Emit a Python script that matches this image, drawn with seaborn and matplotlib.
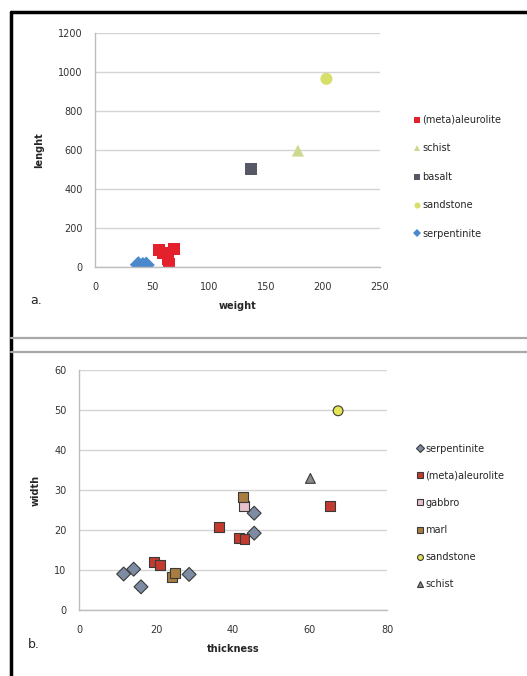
import pandas as pd
import numpy as np
import seaborn as sns
import matplotlib.pyplot as plt
from matplotlib.lines import Line2D

# panel a: weight vs length
a_rock = ["(meta)aleurolite"] * 5 + ["schist", "basalt", "sandstone"] + ["serpentinite"] * 3
a_weight = [56, 60, 69, 64, 65, 178, 137, 203, 38, 42, 45]
a_length = [85, 70, 92, 40, 15, 597, 505, 965, 12, 8, 10]
a_order = ["(meta)aleurolite", "schist", "basalt", "sandstone", "serpentinite"]

# panel b: thickness vs width
b_rock = (["serpentinite"] * 6 + ["(meta)aleurolite"] * 6 + ["gabbro"] + ["marl"] * 3
          + ["sandstone", "schist"])
b_thickness = [11.6, 14.2, 16.1, 28.6, 45.5, 45.5,
               19.4, 21.1, 36.3, 41.5, 43.0, 65.1,
               42.8,
               42.6, 24.2, 25.0,
               67.3, 60.1]
b_width = [9.0, 10.2, 5.8, 8.9, 24.2, 19.2,
           12.1, 11.3, 20.8, 17.9, 17.8, 26.0,
           26.0,
           28.3, 8.3, 9.2,
           49.8, 32.9]
b_order = ["serpentinite", "(meta)aleurolite", "gabbro", "marl", "sandstone", "schist"]

df_a = pd.DataFrame({"rock": a_rock, "weight": a_weight, "lenght": a_length})
df_b = pd.DataFrame({"rock": b_rock, "thickness": b_thickness, "width": b_width})

sns.set_style("white")
plt.rcParams["font.family"] = ["DejaVu Sans"]

W, H = 527, 676
fig = plt.figure(figsize=(W / 100, H / 100), dpi=100)


def fx(px):
    return px / W


def fy(py):
    return 1 - py / H


# frame and separators like the scanned figure
fig.add_artist(Line2D([fx(11), fx(11)], [fy(12), fy(676)], color="black", lw=2.5))
fig.add_artist(Line2D([fx(11), fx(527)], [fy(12), fy(12)], color="black", lw=2.5))
fig.add_artist(Line2D([fx(11), fx(527)], [fy(338), fy(338)], color="#a8a8a8", lw=1.6))
fig.add_artist(Line2D([fx(11), fx(527)], [fy(352), fy(352)], color="#a8a8a8", lw=1.6))


def style_axes(ax):
    ax.grid(axis="y", color="#d4d4d4", lw=1.0)
    ax.grid(axis="x", visible=False)
    for s in ["top", "right"]:
        ax.spines[s].set_visible(False)
    for s in ["left", "bottom"]:
        ax.spines[s].set_color("#bdbdbd")
        ax.spines[s].set_linewidth(1.0)
    ax.tick_params(axis="both", labelsize=7, colors="#bdbdbd", labelcolor="#333333",
                   length=3, direction="out")
    ax.tick_params(axis="x", pad=8)
    ax.tick_params(axis="y", pad=6)
    ax.set_axisbelow(True)


# ---- panel a
ax1 = fig.add_axes([fx(95), fy(267), fx(380) - fx(95), fy(33) - fy(267)])
pal_a = {"(meta)aleurolite": "#e3202b", "schist": "#cdd98f", "basalt": "#575866",
         "sandstone": "#d6df6a", "serpentinite": "#4c89cc"}
mk_a = {"(meta)aleurolite": "s", "schist": "^", "basalt": "s",
        "sandstone": "o", "serpentinite": "D"}
sns.scatterplot(data=df_a, x="weight", y="lenght", hue="rock", style="rock",
                hue_order=a_order, style_order=a_order, palette=pal_a, markers=mk_a,
                s=75, linewidth=0, ax=ax1)
ax1.set_xlim(0, 250)
ax1.set_ylim(0, 1200)
ax1.set_xticks(np.arange(0, 251, 50))
ax1.set_yticks(np.arange(0, 1201, 200))
style_axes(ax1)
ax1.set_xlabel("weight", fontsize=7, fontweight="bold", labelpad=6)
ax1.set_ylabel("lenght", fontsize=7, fontweight="bold", labelpad=10)
ax1.legend(loc="center left", bbox_to_anchor=(1.1, 0.385), frameon=False, fontsize=7,
           handletextpad=0.1, handlelength=0.8, labelspacing=1.9, markerscale=0.5,
           borderpad=0)
fig.text(fx(30), fy(300), "a.", fontsize=9, va="center")

# ---- panel b
ax2 = fig.add_axes([fx(79), fy(610), fx(387) - fx(79), fy(370) - fy(610)])
pal_b = {"serpentinite": "#7d8ca3", "(meta)aleurolite": "#c33a2e", "gabbro": "#e6c2cb",
         "marl": "#a77d42", "sandstone": "#e4e457", "schist": "#8a8a8a"}
mk_b = {"serpentinite": "D", "(meta)aleurolite": "s", "gabbro": "s",
        "marl": "s", "sandstone": "o", "schist": "^"}
sns.scatterplot(data=df_b, x="thickness", y="width", hue="rock", style="rock",
                hue_order=b_order, style_order=b_order, palette=pal_b, markers=mk_b,
                s=50, edgecolor="#3a3a3a", linewidth=0.8, ax=ax2)
ax2.set_xlim(0, 80)
ax2.set_ylim(0, 60)
ax2.set_xticks(np.arange(0, 81, 20))
ax2.set_yticks(np.arange(0, 61, 10))
style_axes(ax2)
ax2.set_xlabel("thickness", fontsize=7, fontweight="bold", labelpad=6)
ax2.set_ylabel("width", fontsize=7, fontweight="bold", labelpad=10)
ax2.legend(loc="center left", bbox_to_anchor=(1.08, 0.39), frameon=False, fontsize=7,
           handletextpad=0.1, handlelength=0.8, labelspacing=1.75, markerscale=0.6,
           borderpad=0)
fig.text(fx(28), fy(645), "b.", fontsize=9, va="center")

plt.savefig("out.png", dpi=100)
